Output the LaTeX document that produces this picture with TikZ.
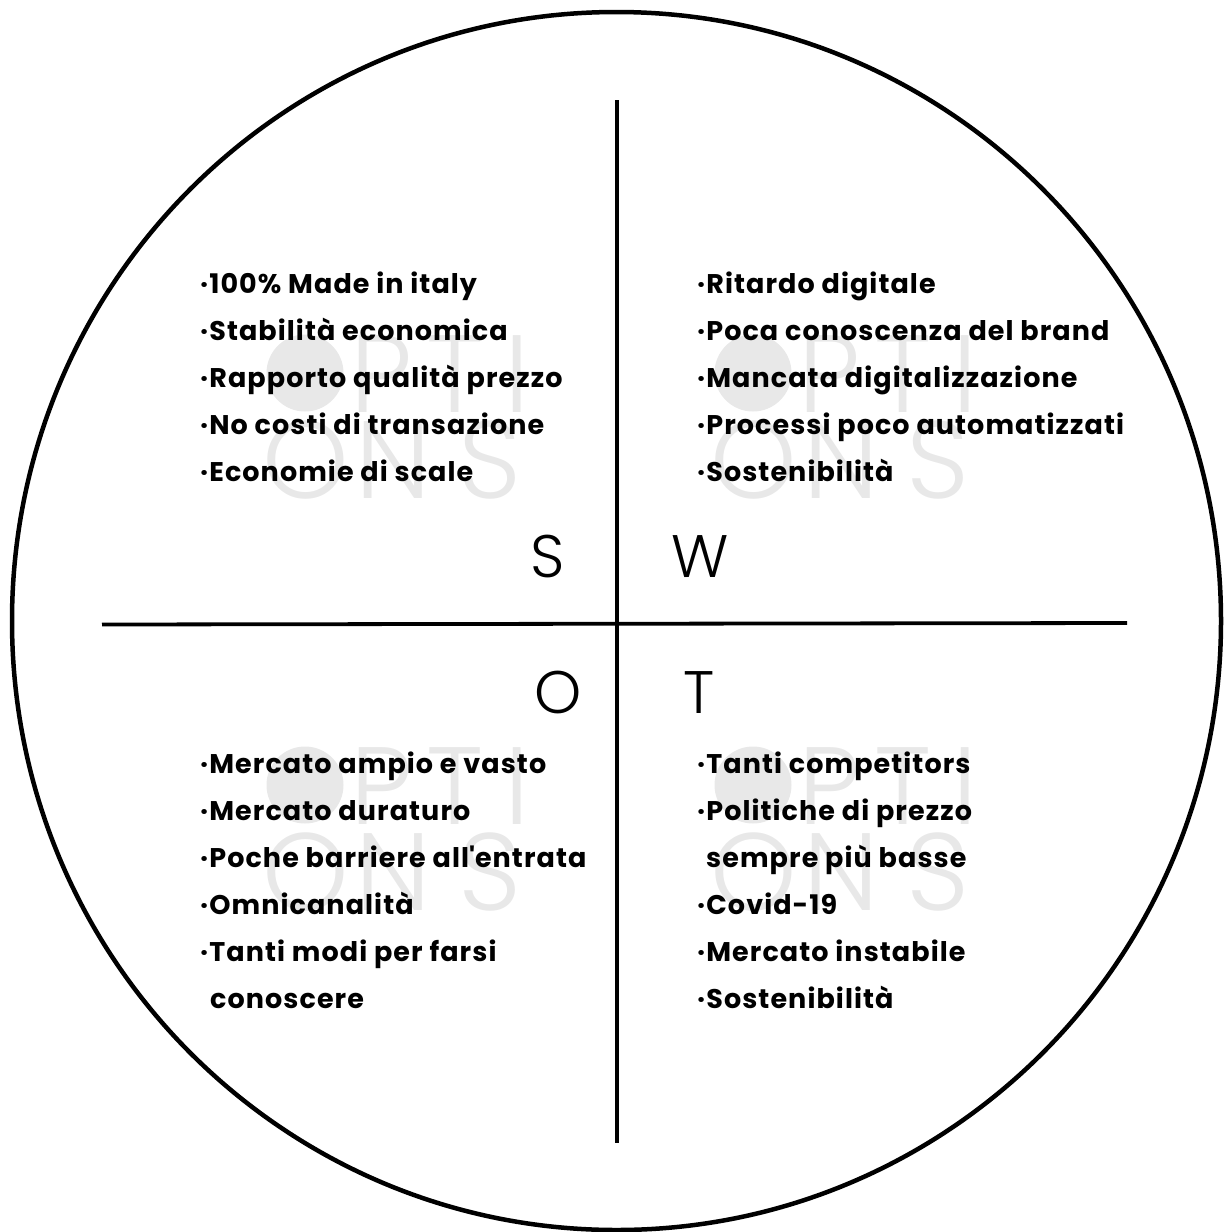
\documentclass[tikz,border=0pt]{standalone}
\usepackage{fontspec}
\setmainfont{Poppins}
\newfontfamily\lightfont{Poppins Light}
\newfontfamily\itemfont{Poppins}[LetterSpace=4]
\definecolor{wmgray}{RGB}{232,232,232}
\begin{document}
\begin{tikzpicture}[x=1pt,y=-1pt,
  item/.style={anchor=base west, inner sep=0pt, font=\itemfont\bfseries\fontsize{27}{31}\selectfont},
  big/.style={anchor=base, inner sep=0pt, font=\lightfont\fontsize{60}{70}\selectfont},
  wm/.style={anchor=base, inner sep=0pt, text=wmgray, font=\lightfont\fontsize{110}{120}\selectfont},
  wmark/.pic={
    \fill[wmgray] (305,373) circle (38.5pt);
    \node[wm] (p) at (382,412) {P};
    \node[wm] (t) at (455,412) {T};
    \node[wm] (i) at (517,412) {I};
    \node[wm] (o) at (306,498) {O};
    \node[wm] (n) at (393,498) {N};
    \node[wm] (s) at (490,498) {S};
  }]
\useasboundingbox (0,0) rectangle (1224,1232);
% watermarks
\pic (wtl) at (0,0) {wmark};
\pic (wtr) at (448,0) {wmark};
\pic (wbl) at (0,412) {wmark};
\pic (wbr) at (448,412) {wmark};
% frame
\draw[line width=4.5pt] (616.5,621) ellipse [x radius=604.5pt, y radius=609pt];
\coordinate (vt) at (617,100);
\coordinate (vb) at (617,1143);
\coordinate (hl) at (102,624.5);
\coordinate (hr) at (1127,623);
\draw[line width=3.2pt] (vt) -- (vb);
\draw[line width=3.8pt] (hl) -- (hr);
% letters
\node[big] (S) at (548,577) {S};
\node[big] (W) at (700,577) {W};
\node[big] (O) at (558,713) {O};
\node[big] (T) at (699,713) {T};
% strengths
\node[item] (s1) at (200,293) {·100\% Made in italy};
\node[item] (s2) at (200,340) {·Stabilità economica};
\node[item] (s3) at (200,387) {·Rapporto qualità prezzo};
\node[item] (s4) at (200,434) {·No costi di transazione};
\node[item] (s5) at (200,481) {·Economie di scale};
% weaknesses
\node[item] (w1) at (697,293) {·Ritardo digitale};
\node[item] (w2) at (697,340) {·Poca conoscenza del brand};
\node[item] (w3) at (697,387) {·Mancata digitalizzazione};
\node[item] (w4) at (697,434) {·Processi poco automatizzati};
\node[item] (w5) at (697,481) {·Sostenibilità};
% opportunities
\node[item] (o1) at (200,773) {·Mercato ampio e vasto};
\node[item] (o2) at (200,820) {·Mercato duraturo};
\node[item] (o3) at (200,867) {·Poche barriere all\textquotesingle entrata};
\node[item] (o4) at (200,914) {·Omnicanalità};
\node[item] (o5) at (200,961) {·Tanti modi per farsi};
\node[item] (o6) at (210,1008) {conoscere};
% threats
\node[item] (t1) at (697,773) {·Tanti competitors};
\node[item] (t2) at (697,820) {·Politiche di prezzo};
\node[item] (t3) at (706,867) {sempre più basse};
\node[item] (t4) at (697,914) {·Covid-19};
\node[item] (t5) at (697,961) {·Mercato instabile};
\node[item] (t6) at (697,1008) {·Sostenibilità};
\end{tikzpicture}
\end{document}
